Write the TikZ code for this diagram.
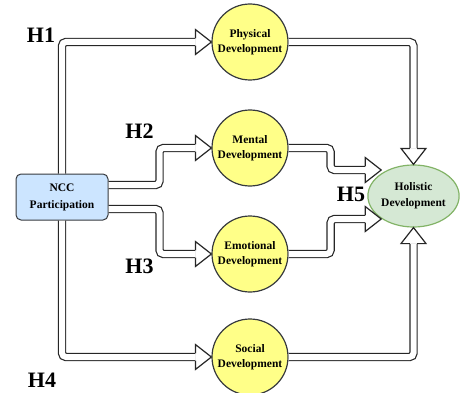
\documentclass[tikz,border=0pt]{standalone}
\usepackage{fontspec}
\setmainfont{Liberation Serif}
\usetikzlibrary{shapes.geometric,calc}
\definecolor{yel}{HTML}{FFFF88}
\definecolor{bluefill}{HTML}{CCE5FF}
\definecolor{greenfill}{HTML}{D5E8D4}
\definecolor{greenline}{HTML}{82B366}
\definecolor{darkline}{HTML}{36393D}
\tikzset{
  circ/.style={circle, minimum size=76pt, inner sep=0pt, fill=yel, draw=darkline, line width=1.2pt, align=center, font=\bfseries\fontsize{11.5}{15}\selectfont},
  nccbox/.style={rectangle, rounded corners=5pt, minimum width=92pt, minimum height=46pt, inner sep=0pt, fill=bluefill, draw=darkline, line width=1pt, align=center, font=\bfseries\fontsize{11.5}{17}\selectfont},
  holbox/.style={ellipse, minimum width=88pt, minimum height=62pt, inner sep=0pt, fill=greenfill, draw=greenline, line width=1.2pt, align=center, font=\bfseries\fontsize{11.5}{16}\selectfont},
  lbl/.style={inner sep=0pt, font=\bfseries\fontsize{22}{22}\selectfont},
  shaft/.style={draw=black!85, line width=1.2pt, double=white, double distance=6pt, rounded corners=4pt},
  ahead/.pic={\filldraw[draw=black!85, fill=white, line width=1.2pt, line join=miter] (-16,3.6) -- (-16,12.5) -- (0,0) -- (-16,-12.5) -- (-16,-3.6);}
}
\begin{document}
\begin{tikzpicture}[x=1pt,y=-1pt]
\useasboundingbox (0,0) rectangle (460,393);
% nodes
\node[nccbox] (ncc) at (62,197) {NCC\\Participation};
\node[circ] (phys) at (250,42) {Physical\\Development};
\node[circ] (mental) at (250,148) {Mental\\Development};
\node[circ] (emo) at (250,254) {Emotional\\Development};
\node[circ] (social) at (250,357) {Social\\Development};
\node[holbox] (hol) at (413.5,196) {Holistic\\Development};
\coordinate (tm) at (hol.145 |- 0,170);
\coordinate (te) at (hol.215 |- 0,219);
% shafts
\draw[shaft] (ncc.north) |- ([xshift=-16pt]phys.west);
\draw[shaft] ([yshift=12pt]ncc.east) -- ++(51,0) |- ([xshift=-16pt]mental.west);
\draw[shaft] ([yshift=-12pt]ncc.east) -- ++(51,0) |- ([xshift=-16pt]emo.west);
\draw[shaft] (ncc.south) |- ([xshift=-16pt]social.west);
\draw[shaft] (phys.east) -| ([yshift=16pt]hol.north);
\draw[shaft] (social.east) -| ([yshift=-16pt]hol.south);
\draw[shaft] (mental.east) -- ++(42,0) |- ([xshift=-16pt]tm);
\draw[shaft] (emo.east) -- ++(42,0) |- ([xshift=-16pt]te);
% heads
\pic at (phys.west) {ahead};
\pic at (mental.west) {ahead};
\pic at (emo.west) {ahead};
\pic at (social.west) {ahead};
\pic at (tm) {ahead};
\pic at (te) {ahead};
\pic[rotate=-90] at (hol.north) {ahead};
\pic[rotate=90] at (hol.south) {ahead};
% labels
\node[lbl] (h1) at (41,35) {H1};
\node[lbl] (h2) at (139.5,131.5) {H2};
\node[lbl] (h3) at (139.5,266) {H3};
\node[lbl] (h4) at (42,380) {H4};
\node[lbl] (h5) at (351,194) {H5};
\end{tikzpicture}
\end{document}
